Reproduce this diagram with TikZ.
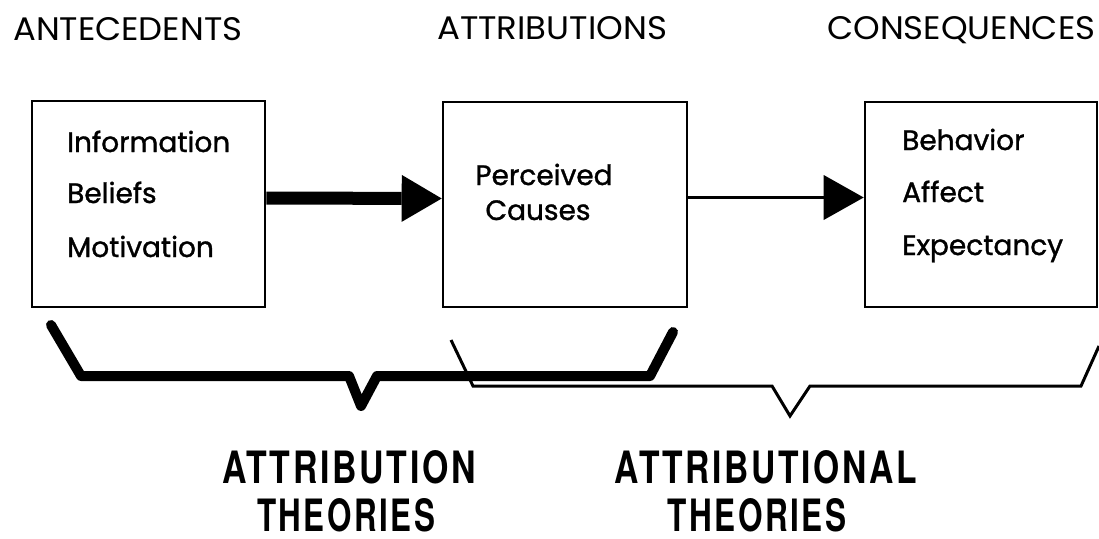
\documentclass[tikz,border=0pt]{standalone}
\usepackage{fontspec}
\setmainfont{Poppins}
\newfontfamily\boxfont[FakeBold=1.2]{Poppins}
\newfontfamily\condfont[LetterSpace=8]{TeX Gyre Heros}
\usetikzlibrary{arrows.meta}
\begin{document}
\begin{tikzpicture}[x=1pt,y=-1pt,
  box/.style={draw,line width=2.6pt,inner sep=0pt},
  boxtxt/.style={anchor=base west,inner sep=0pt,font=\boxfont\fontsize{28}{32}\selectfont},
  boxtxtc/.style={anchor=base,inner sep=0pt,font=\boxfont\fontsize{28}{32}\selectfont},
  header/.style={anchor=base west,inner sep=0pt},
  bigtxt/.style={anchor=base,inner sep=0pt},
  thickarrow/.style={line width=13pt,-{Triangle[length=40pt,width=47pt,line width=0pt]}},
  thinarrow/.style={line width=3pt,-{Triangle[length=40pt,width=45pt,line width=0pt]}},
  bigbrace/.style={line width=10pt,line cap=round,line join=round},
  smallbrace/.style={line width=3pt,line join=miter}]
\useasboundingbox (0,0) rectangle (1099,538);
% headers
\node[header] (h1) at (13,40) {\resizebox{229pt}{23pt}{ANTECEDENTS}};
\node[header] (h2) at (437,39) {\resizebox{230pt}{23pt}{ATTRIBUTIONS}};
\node[header] (h3) at (827,39) {\resizebox{268pt}{23pt}{CONSEQUENCES}};
% boxes
\node[box,minimum width=233pt,minimum height=206pt] (b1) at (148.5,204) {};
\node[box,minimum width=244pt,minimum height=205pt] (b2) at (565,204.5) {};
\node[box,minimum width=232pt,minimum height=205pt] (b3) at (981,204.5) {};
% box texts
\node[boxtxt] (t11) at (67,152) {Information};
\node[boxtxt] (t12) at (67,203) {Beliefs};
\node[boxtxt] (t13) at (67,257) {Motivation};
\node[boxtxtc] (t21) at (544,185) {Perceived};
\node[boxtxtc] (t22) at (538,220) {Causes};
\node[boxtxt] (t31) at (902,150) {Behavior};
\node[boxtxt] (t32) at (902,202) {Affect};
\node[boxtxt] (t33) at (902,255) {Expectancy};
% arrows
\draw[thickarrow] ([yshift=6pt]b1.east) -- ([yshift=6pt]b2.west);
\draw[thinarrow] ([yshift=7pt]b2.east) -- ([yshift=7pt]b3.west);
% braces
\draw[smallbrace] (451,340) -- (473,386) -- (772,386) -- (790,416) -- (810,386) -- (1081,386) -- (1099,346);
\draw[bigbrace] (51,325) -- (81,376) -- (349,376) -- (361,406) -- (377,376) -- (650,376) -- (673,332);
% bottom labels
\node[bigtxt] (l1) at (349,483) {\resizebox{254pt}{33pt}{\condfont\bfseries ATTRIBUTION}};
\node[bigtxt] (l2) at (346,531) {\resizebox{178pt}{33pt}{\condfont\bfseries THEORIES}};
\node[bigtxt] (l3) at (766,483) {\resizebox{302pt}{33pt}{\condfont\bfseries ATTRIBUTIONAL}};
\node[bigtxt] (l4) at (757,531) {\resizebox{179pt}{33pt}{\condfont\bfseries THEORIES}};
\end{tikzpicture}
\end{document}
